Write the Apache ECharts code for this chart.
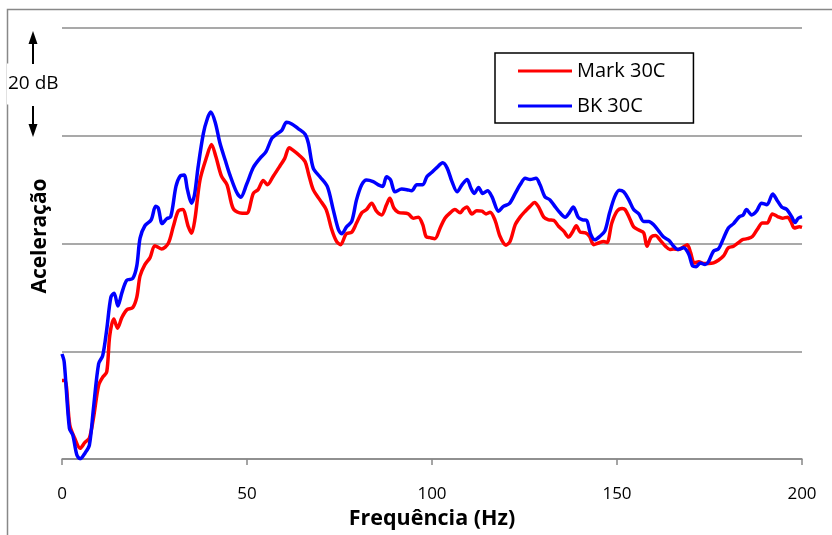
<!DOCTYPE html>
<html>
<head>
<meta charset="utf-8">
<script src="https://cdn.jsdelivr.net/npm/echarts@6/dist/echarts.min.js"></script>
<style>html,body{margin:0;padding:0;background:#fff}#c{width:832px;height:535px}</style>
</head>
<body>
<div id="c"></div>
<script>
const xTicks = [0, 50, 100, 150, 200];
const seriesNames = ['Mark 30C', 'BK 30C'];

const redFreq = [0,0.8,2.1,3.4,4.9,6.2,7.4,8.5,9.9,11,12.1,12.9,14.0,15.0,16.2,17.5,19.1,20.2,21.1,22.4,23.8,25.1,26.9,28.7,30.1,31.4,32.6,34.1,35.0,35.9,37.3,39.1,40.4,41.6,43.1,44.6,46.2,48.0,49.9,51.7,53.0,54.4,55.5,57.1,58.9,60.2,61.4,62.5,64.1,65.7,66.6,67.9,69.7,71.4,72.9,74.2,75.3,76.8,78.3,79.6,81.0,82.3,83.7,85.0,86.4,87.7,88.6,89.7,90.9,93.6,94.9,96.3,97.5,98.4,99.5,100.8,102.2,103.5,104.9,106.2,107.6,108.5,109.4,110.8,112.1,113.5,114.6,115.7,117.0,118.4,120.0,121.1,122.5,123.8,125.2,126.5,127.7,128.8,130.2,131.5,132.9,134.2,135.6,136.9,138.1,139.0,140.1,141.5,142.6,143.7,145.0,146.4,147.3,148.6,150.0,151.4,152.2,153.4,154.5,155.9,157.2,158.1,159.2,160.4,161.7,163.1,164.3,165.3,166.7,168.0,169.0,169.9,170.9,172.1,173.4,174.7,176.1,177.4,178.8,180.1,181.5,182.9,183.8,185.2,186.6,187.9,189.3,190.6,192.0,193.4,194.7,196.1,197.0,197.9,199.3,200];
const redValues = [14.6,14.6,6.3,3.9,2.0,3.1,3.9,7.6,13.7,15.2,16.2,22.9,26.0,24.3,26.3,27.7,28.1,30.0,34.0,36.1,37.4,39.6,39.0,40.0,43.2,46.0,46.3,43.2,41.9,44.4,51.8,56.1,58.4,56.1,52.5,50.9,46.6,45.7,45.6,49.3,50.0,51.7,50.9,52.5,54.4,55.8,57.8,57.3,56.4,55.2,53.0,50.0,48.1,46.3,42.6,40.4,39.8,41.8,42.1,43.8,45.7,46.3,47.5,46.0,45.3,47.2,48.4,46.6,45.8,45.5,44.7,44.9,43.5,41.3,41.1,40.9,42.9,44.7,45.7,46.3,45.7,46.4,46.8,45.5,46.1,46.0,45.5,45.8,44.4,41.3,39.7,40.4,43.5,44.9,46.0,46.9,47.6,46.8,44.9,44.4,44.3,43.2,42.3,41.2,42.3,43.3,42.1,42.0,41.3,39.8,40.1,40.4,40.2,43.8,46.0,46.5,46.3,44.7,43.1,42.5,42.0,39.5,41.2,41.5,40.6,39.5,38.9,39.0,38.9,39.4,39.8,38.3,36.4,36.6,36.3,36.3,36.4,36.9,37.7,39.2,39.5,40.2,40.7,40.9,41.3,42.6,43.8,43.8,45.5,45.0,44.7,44.9,44.1,42.9,43.1,43.0];

const blueFreq = [0,0.6,2.0,2.9,4.0,4.9,6.2,7.4,8.5,9.9,11,12.1,13.2,14.1,15.1,16.2,17.5,19.1,20.2,21.1,22.4,24.1,25.3,26.0,27.1,28.3,29.4,30.8,31.9,33.0,33.9,35.0,35.8,36.8,38.2,39.3,40.2,41.4,42.7,44.1,45.4,47.2,48.3,49.9,51.7,53.5,55.1,56.7,58.0,59.4,60.7,62.1,63.9,65.7,66.6,67.9,69.7,71.7,73.3,74.7,75.6,76.9,78.3,79.6,81.0,82.3,84.1,85.5,86.7,87.7,88.8,90.0,91.8,93.2,94.5,95.9,97.5,98.6,99.9,101.3,102.9,104.1,105.4,106.8,108.1,109.5,110.5,111.4,112.6,113.7,115.0,116.2,118.0,119.3,120.9,122.5,123.8,125.2,126.5,128.1,129.2,130.5,131.9,133.2,134.6,136.0,137.1,138.2,139.5,140.7,141.8,142.8,144.0,145.3,146.7,148.0,149.4,150.6,151.8,153.2,154.5,155.9,157.2,158.6,159.9,161.3,162.6,164.0,165.3,166.4,168.0,169.4,170.5,171.4,172.5,173.8,174.7,176.1,177.4,178.8,180.1,181.5,183.1,184.1,185.0,186.4,187.7,189.1,190.5,192.1,193.2,194.5,195.9,197.2,198.1,199.0,200];
const blueValues = [19.5,18.0,5.7,4.5,0.8,0.05,1.1,2.6,9.4,17.7,19.2,24.1,30.0,30.8,28.4,30.9,33.2,33.5,35.8,41.0,43.3,44.4,46.9,46.6,43.7,44.6,45.0,50.6,52.5,52.7,50.0,47.5,49.0,54.3,60.4,63.2,64.4,62.5,58.6,55.5,52.7,49.5,48.6,51.0,54.1,55.8,57.0,59.5,60.3,61.0,62.5,62.2,61.3,60.3,58.6,54.0,52.4,50.6,46.3,42.6,41.8,43.1,44.1,48.1,50.9,51.8,51.5,50.9,50.6,52.4,51.8,49.6,50.1,50.0,49.8,50.9,50.9,52.4,53.2,54.1,55.0,54.0,51.5,49.6,50.9,51.9,50.3,49.3,50.4,49.3,49.8,48.7,46.0,46.9,47.4,49.3,50.9,52.1,51.9,52.1,50.9,48.7,48.1,46.9,45.7,44.9,45.7,46.8,44.9,44.4,44.3,41.9,40.7,41.3,42.3,45.7,48.7,49.9,49.6,48.1,46.3,45.5,44.1,44.1,43.5,42.3,41.2,40.6,39.5,38.9,39.2,38.0,35.8,35.7,36.4,36.1,36.6,38.6,39.0,41.0,42.9,43.7,45.0,45.3,46.3,45.3,46.0,47.5,47.2,49.2,48.1,46.8,46.3,45.0,43.9,44.7,45.0];

const pairs = (xs, ys) => xs.map((x, i) => [x, ys[i]]);
const FONT = 'Open Sans';

const chart = echarts.init(document.getElementById('c'), null, {renderer: 'canvas'});
chart.setOption({
  animation: false,
  backgroundColor: '#fff',
  grid: {left: 62, right: 30, top: 28, bottom: 74},
  legend: {
    orient: 'vertical', left: 495, top: 53,
    data: seriesNames,
    icon: 'rect', itemWidth: 54, itemHeight: 3, itemGap: 11,
    padding: [6, 28, 5, 23],
    borderColor: '#000', borderWidth: 1.5,
    textStyle: {fontFamily: FONT, fontSize: 20, color: '#000', lineHeight: 24}
  },
  xAxis: {
    type: 'value', min: 0, max: 200, interval: 50,
    name: 'Frequência (Hz)', nameLocation: 'middle', nameGap: 46,
    nameTextStyle: {fontFamily: FONT, fontSize: 21.5, fontWeight: 'bold', color: '#000'},
    axisLine: {lineStyle: {color: '#888', width: 1.5}},
    axisTick: {show: true, inside: false, length: 6, lineStyle: {color: '#888', width: 1.5}},
    axisLabel: {fontFamily: FONT, fontSize: 17, color: '#000', margin: 27},
    splitLine: {show: false}
  },
  yAxis: {
    type: 'value', min: 0, max: 80, interval: 20,
    axisLine: {show: false}, axisTick: {show: false},
    axisLabel: {show: false},
    splitLine: {lineStyle: {color: '#8c8c8c', width: 1.5}}
  },
  graphic: [
    {type: 'rect', shape: {x: 7.5, y: 9.5, width: 900, height: 700}, style: {fill: 'none', stroke: '#888', lineWidth: 1.5}, z: -1},
    {type: 'text', x: 40, y: 236, rotation: Math.PI / 2,
     style: {text: 'Aceleração', fontFamily: FONT, fontSize: 21, fontWeight: 'bold', fill: '#000', align: 'center', verticalAlign: 'middle'}},
    {type: 'text', x: 7, y: 84,
     style: {text: '20 dB', fontFamily: FONT, fontSize: 19, fill: '#000', verticalAlign: 'middle', backgroundColor: '#fff', padding: [11, 2, 11, 1]}},
    {type: 'line', shape: {x1: 33, y1: 64, x2: 33, y2: 42}, style: {stroke: '#000', lineWidth: 2}},
    {type: 'polygon', shape: {points: [[28.5, 44], [37.5, 44], [33, 31]]}, style: {fill: '#000'}},
    {type: 'line', shape: {x1: 33, y1: 106, x2: 33, y2: 126}, style: {stroke: '#000', lineWidth: 2}},
    {type: 'polygon', shape: {points: [[28.5, 124], [37.5, 124], [33, 137]]}, style: {fill: '#000'}}
  ],
  series: [
    {name: seriesNames[0], type: 'line', data: pairs(redFreq, redValues), smooth: 0.3, showSymbol: false,
     lineStyle: {color: '#ff0000', width: 3.5}, itemStyle: {color: '#ff0000'}, z: 2},
    {name: seriesNames[1], type: 'line', data: pairs(blueFreq, blueValues), smooth: 0.3, showSymbol: false,
     lineStyle: {color: '#0000ff', width: 3.5}, itemStyle: {color: '#0000ff'}, z: 3}
  ]
});
</script>
</body>
</html>
